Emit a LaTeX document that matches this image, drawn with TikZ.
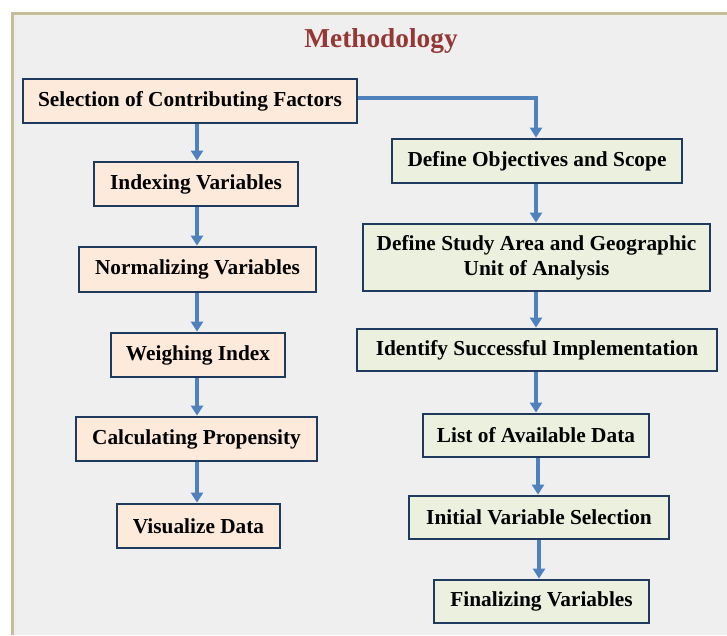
\documentclass[tikz,border=0pt]{standalone}
\usepackage{fontspec}
\setmainfont{Liberation Serif}
\usetikzlibrary{arrows.meta}
\definecolor{framecol}{HTML}{C4BD97}
\definecolor{bgcol}{HTML}{EFEFEF}
\definecolor{titlecol}{HTML}{953735}
\definecolor{peach}{HTML}{FDEADA}
\definecolor{palegreen}{HTML}{EBF1DE}
\definecolor{boxline}{HTML}{1F3A5F}
\definecolor{arrowcol}{HTML}{4F81BD}
\tikzset{
  box/.style={draw=boxline, line width=2.1pt, inner sep=0pt, align=center,
    font=\fontsize{16}{19}\selectfont\bfseries, text=black},
  lbox/.style={box, fill=peach},
  rbox/.style={box, fill=palegreen},
  flow/.style={draw=arrowcol, line width=2.4pt, -{Triangle[length=7.5pt,width=9pt]}},
  sz/.style 2 args={minimum width=#1*0.75pt, minimum height=#2*0.75pt}
}
\begin{document}
\begin{tikzpicture}[x=0.75pt,y=-0.75pt]
\useasboundingbox (0,0) rectangle (727,635);
\fill[white] (0,0) rectangle (727,635);
\fill[bgcol] (13,14) rectangle (727,635);
\draw[framecol, line width=2.6pt] (12.5,635) -- (12.5,13.5) -- (727,13.5);

\node[text=titlecol, font=\fontsize{20.5}{24}\selectfont\bfseries] (title) at (381,41) {Methodology};

% left column
\node[lbox, sz={334}{44}] (sel) at (190,101) {Selection of Contributing Factors};
\node[lbox, sz={204}{44}] (idx) at (196,184) {Indexing Variables};
\node[lbox, sz={237}{45}] (norm) at (197.5,269.5) {Normalizing Variables};
\node[lbox, sz={174}{44}] (weigh) at (198,355) {Weighing Index};
\node[lbox, sz={241}{44}] (calc) at (196.5,439) {Calculating Propensity};
\node[lbox, sz={163}{44}] (vis) at (198.5,526) {Visualize Data};

% right column
\node[rbox, sz={290}{44}] (obj) at (537,161) {Define Objectives and Scope};
\node[rbox, sz={347}{67}] (study) at (536.5,257.5) {Define Study Area and Geographic\\Unit of Analysis};
\node[rbox, sz={360}{42}] (ident) at (537,350) {Identify Successful Implementation};
\node[rbox, sz={226}{43}] (list) at (536,435.5) {List of Available Data};
\node[rbox, sz={260}{43}] (init) at (539,517.5) {Initial Variable Selection};
\node[rbox, sz={215}{43}] (fin) at (541.5,601.5) {Finalizing Variables};

\coordinate (c1) at (197,0);
\coordinate (c2) at (536,0);
\coordinate (c3) at (538,0);

% left arrows
\draw[flow] (sel.south -| c1) -- (idx.north -| c1);
\draw[flow] (idx.south -| c1) -- (norm.north -| c1);
\draw[flow] (norm.south -| c1) -- (weigh.north -| c1);
\draw[flow] (weigh.south -| c1) -- (calc.north -| c1);
\draw[flow] (calc.south -| c1) -- (vis.north -| c1);

% branch
\draw[flow] ([yshift=2.25pt]sel.east) -| (obj.north -| c2);

% right arrows
\draw[flow] (obj.south -| c2) -- (study.north -| c2);
\draw[flow] (study.south -| c2) -- (ident.north -| c2);
\draw[flow] (ident.south -| c2) -- (list.north -| c2);
\draw[flow] (list.south -| c3) -- (init.north -| c3);
\draw[flow] ([xshift=0.75pt]init.south -| c3) -- ([xshift=0.75pt]fin.north -| c3);
\end{tikzpicture}
\end{document}
